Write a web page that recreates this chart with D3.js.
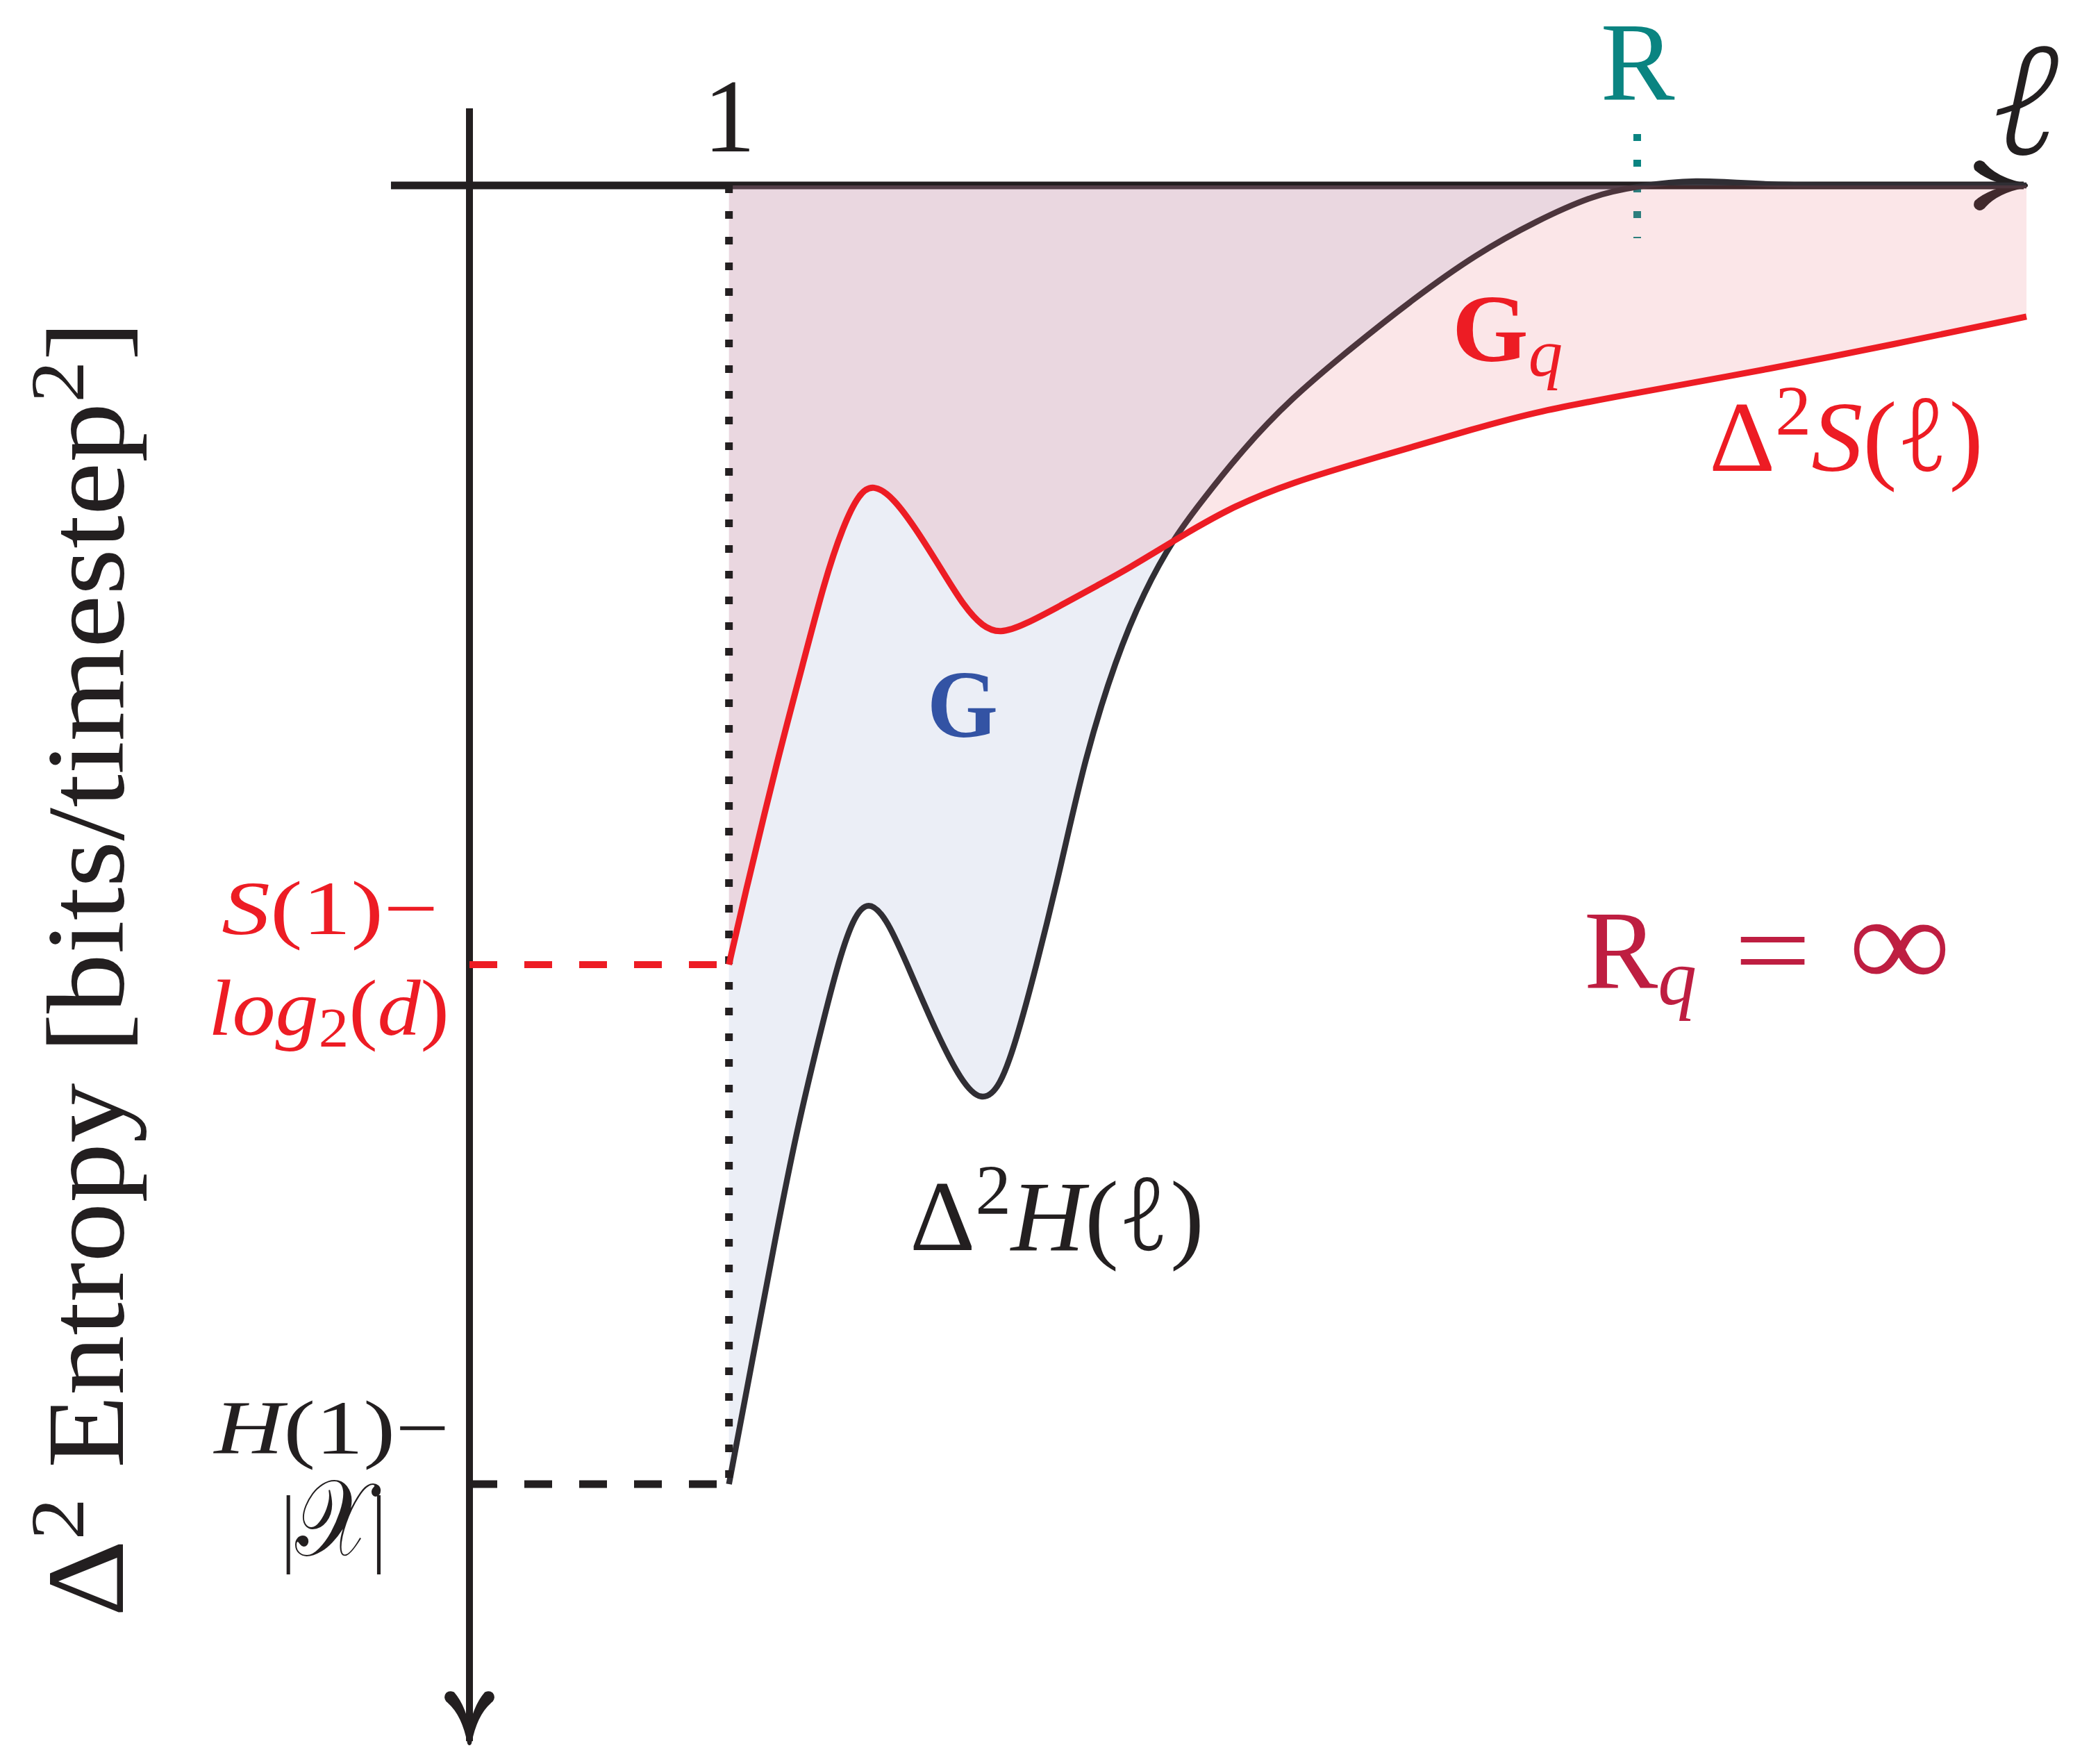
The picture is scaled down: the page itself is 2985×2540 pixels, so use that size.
<!DOCTYPE html>
<html><head><meta charset="utf-8">
<script src="https://cdn.jsdelivr.net/npm/d3@7"></script>
<style>html,body{margin:0;padding:0;background:#fff} svg{display:block}</style>
</head><body>
<svg id="chart" width="2985" height="2540"></svg>
<script>
// ---------------- data ----------------
// block length ℓ (arbitrary units; ℓ = 1 first tick, R = 8) and Δ²H(ℓ)
const ellH = [1.0,1.189,1.355,1.521,1.692,1.831,1.955,2.072,2.217,2.404,2.597,2.790,2.945,3.089,3.218,3.362,3.555,3.742,3.983,4.197,4.438,4.652,4.963,5.321,5.798,6.279,6.756,7.227,7.676,7.981,8.44,8.97,10,11];
const dH   = [-10.0,-9.0,-8.12,-7.28,-6.57,-6.02,-5.64,-5.50,-5.64,-6.07,-6.52,-6.90,-7.06,-6.95,-6.57,-6.04,-5.26,-4.41,-3.64,-3.13,-2.70,-2.42,-2.03,-1.65,-1.25,-0.87,-0.53,-0.27,-0.07,-0.01,0.05,0,0,0];
// Δ²S(ℓ)
const ellS = [1.0,1.109,1.376,1.569,1.735,1.880,2.003,2.110,2.265,2.452,2.645,2.811,2.956,3.089,3.266,3.603,3.839,4.079,4.438,4.845,5.321,6.038,6.756,7.227,7.981,9.036,9.946,11.0];
const dS   = [-6.0,-5.52,-4.41,-3.69,-3.05,-2.62,-2.37,-2.30,-2.40,-2.66,-2.97,-3.24,-3.40,-3.45,-3.39,-3.21,-3.08,-2.95,-2.73,-2.49,-2.29,-2.08,-1.87,-1.74,-1.60,-1.41,-1.23,-1.01];
const xTicks = [1];
const xTickLabels = ["1"];
const markovOrder = 8;          // R
const S1minusLogd = -6;         // S(1) - log2(d)
const H1minusX = -10;           // H(1) - |X|
const xAxisExtent = [-1.605, 11];
const yAxisExtent = [0.594, -12];

// ---------------- styles ----------------
const SERIF = "'Liberation Serif','DejaVu Serif',serif";
const ELL = "'Noto Sans','DejaVu Sans',serif";
const INK = "#231F20", RED = "#ED1C24", BLUE = "#3353A4", TEAL = "#0A8481", CRIMSON = "#BE1E41", HCOL = "#302E34";

const svg = d3.select("#chart");
const x = d3.scaleLinear().domain([-1, 11]).range([676, 2918]);
const y = d3.scaleLinear().domain([0, -10]).range([267, 2137]);

const Hdata = ellH.map((l, i) => ({l, v: dH[i]}));
const Sdata = ellS.map((l, i) => ({l, v: dS[i]}));
const curve = d3.curveBasis;
const line = d3.line().x(d => x(d.l)).y(d => y(d.v)).curve(curve);
const area = d3.area().x(d => x(d.l)).y0(y(0)).y1(d => y(d.v)).curve(curve);

// ---------------- axes ----------------
svg.append("line").attr("x1", x(xAxisExtent[0])).attr("x2", x(xAxisExtent[1]) - 4)
  .attr("y1", y(0)).attr("y2", y(0)).attr("stroke", INK).attr("stroke-width", 11);
svg.append("line").attr("x1", x(-1)).attr("x2", x(-1))
  .attr("y1", y(yAxisExtent[0])).attr("y2", y(yAxisExtent[1]) - 4).attr("stroke", INK).attr("stroke-width", 10);

function arrow(px, py, angle) {
  svg.append("path")
    .attr("d", "M 3,0 C -18,-4 -42,-12 -57,-29 C -61,-36 -72,-33 -68,-24 C -52,-10 -30,-4 -8,0 C -30,4 -52,10 -68,24 C -72,33 -61,36 -57,29 C -42,12 -18,4 3,0 Z")
    .attr("transform", `translate(${px},${py}) rotate(${angle})`)
    .attr("fill", INK).attr("stroke", INK).attr("stroke-width", 6).attr("stroke-linejoin", "round");
}
arrow(x(xAxisExtent[1]) - 4, y(0), 0);
arrow(x(-1), y(yAxisExtent[1]) - 4, 90);

// tick label "1"
svg.append("g").attr("transform", `translate(0,${y(0)})`)
  .call(d3.axisTop(x).tickValues(xTicks).tickSize(0).tickPadding(49).tickFormat((d, i) => xTickLabels[i]))
  .call(g => g.select(".domain").remove())
  .selectAll("text").attr("font-size", 150).attr("font-family", SERIF).attr("fill", INK);

// R tick label
svg.append("g").attr("transform", `translate(0,${y(0)})`)
  .call(d3.axisTop(x).tickValues([markovOrder]).tickSize(0).tickPadding(124).tickFormat(() => "R"))
  .call(g => g.select(".domain").remove())
  .selectAll("text").attr("font-size", 160).attr("font-family", SERIF).attr("fill", TEAL);

// R dotted marker (under the fills)
svg.append("line").attr("x1", x(markovOrder)).attr("x2", x(markovOrder))
  .attr("y1", y(0) - 74).attr("y2", y(0) + 76)
  .attr("stroke", TEAL).attr("stroke-width", 11).attr("stroke-dasharray", "10,27");

// ---------------- fills & curves ----------------
svg.append("path").datum(Hdata).attr("d", area).attr("fill", "rgb(154,170,210)").attr("fill-opacity", 0.2);
svg.append("path").datum(Hdata).attr("d", line).attr("fill", "none").attr("stroke", HCOL).attr("stroke-width", 8.5);
svg.append("path").datum(Sdata).attr("d", area).attr("fill", "rgb(229,94,106)").attr("fill-opacity", 0.155);

// dashed guide lines
svg.append("line").attr("x1", x(1)).attr("x2", x(1)).attr("y1", y(0)).attr("y2", y(H1minusX))
  .attr("stroke", INK).attr("stroke-width", 11).attr("stroke-dasharray", "11,26");
svg.append("line").attr("x1", x(-1)).attr("x2", x(1)).attr("y1", y(S1minusLogd)).attr("y2", y(S1minusLogd))
  .attr("stroke", RED).attr("stroke-width", 10).attr("stroke-dasharray", "40,39");
svg.append("line").attr("x1", x(-1)).attr("x2", x(1)).attr("y1", y(H1minusX)).attr("y2", y(H1minusX))
  .attr("stroke", INK).attr("stroke-width", 11).attr("stroke-dasharray", "40,39");

svg.append("path").datum(Sdata).attr("d", line).attr("fill", "none").attr("stroke", RED).attr("stroke-width", 9);

// ---------------- math-like labels ----------------
function mathText(g, segs, size, color) {
  const t = g.append("text").attr("font-size", size).attr("fill", color).attr("font-family", SERIF);
  let shift = 0;
  segs.forEach(s => {
    const ts = t.append("tspan").text(s.t);
    const target = s.sub ? 0.15 * size : s.sup ? -0.36 * size : 0;
    if (target - shift !== 0) ts.attr("dy", target - shift);
    shift = target;
    if (s.sub || s.sup) ts.attr("font-size", size * 0.7);
    if (s.i) ts.attr("font-style", "italic");
    if (s.b) ts.attr("font-weight", "bold");
    if (s.ell) ts.attr("font-family", ELL).attr("font-weight", 300);
    if (s.scale) ts.attr("font-size", size * s.scale);
  });
  return t;
}
// place text so that its advance box starts at (x0, base) and spans width w (w omitted: natural width, centred on cx)
function place(segs, o) {
  const g = svg.append("g");
  const t = mathText(g, segs, o.size, o.color);
  const bb = t.node().getBBox();
  const rot = o.rotate ? " rotate(-90)" : "";
  if (o.w) {
    const sx = o.w / bb.width;
    g.attr("transform", `translate(${o.x},${o.base})${rot} scale(${sx},1) translate(${-bb.x},0)`);
  } else {
    g.attr("transform", `translate(${o.cx - bb.width / 2},${o.base})${rot} skewX(-12) translate(${-bb.x},0)`);
  }
}

// y-axis title (rotated, reading upward)
place([{t: "Δ"}, {t: "2", sup: 1}, {t: " Entropy [bits/timestep"}, {t: "2", sup: 1}, {t: "]"}],
  {x: 177, base: 2328, w: 1866, size: 158, color: INK, rotate: true});

// x-axis symbol ℓ
place([{t: "ℓ", i: 1, ell: 1}], {cx: 2905, base: 222, size: 215, color: INK});

place([{t: "S", i: 1}, {t: "(1)−"}], {x: 319, base: 1345, w: 312, size: 110, color: RED});
place([{t: "log", i: 1}, {t: "2", sub: 1}, {t: "("}, {t: "d", i: 1}, {t: ")"}], {x: 300, base: 1490, w: 347, size: 115, color: RED});
place([{t: "H", i: 1}, {t: "(1)−"}], {x: 306, base: 2093, w: 341, size: 110, color: INK});
place([{t: "|"}, {t: "𝒳", scale: 1.25}, {t: "|"}], {x: 405, base: 2240, w: 150, size: 125, color: INK});

place([{t: "Δ"}, {t: "2", sup: 1}, {t: "S", i: 1}, {t: "("}, {t: "ℓ", i: 1, ell: 1}, {t: ")"}], {x: 2461, base: 678, w: 395, size: 145, color: RED});
place([{t: "G", b: 1}, {t: "q", i: 1, sub: 1}], {x: 2091, base: 520, w: 159, size: 138, color: RED});
place([{t: "G", b: 1}], {x: 1335, base: 1061, w: 102, size: 138, color: BLUE});
place([{t: "Δ"}, {t: "2", sup: 1}, {t: "H", i: 1}, {t: "("}, {t: "ℓ", i: 1, ell: 1}, {t: ")"}], {x: 1310, base: 1800, w: 424, size: 145, color: INK});
place([{t: "R"}, {t: "q", i: 1, sub: 1}], {x: 2281, base: 1422, w: 162, size: 162, color: CRIMSON});
place([{t: "="}], {x: 2497, base: 1422, w: 111, size: 162, color: CRIMSON});
place([{t: "∞"}], {x: 2662, base: 1422, w: 147, size: 190, color: CRIMSON});
</script>
</body></html>
